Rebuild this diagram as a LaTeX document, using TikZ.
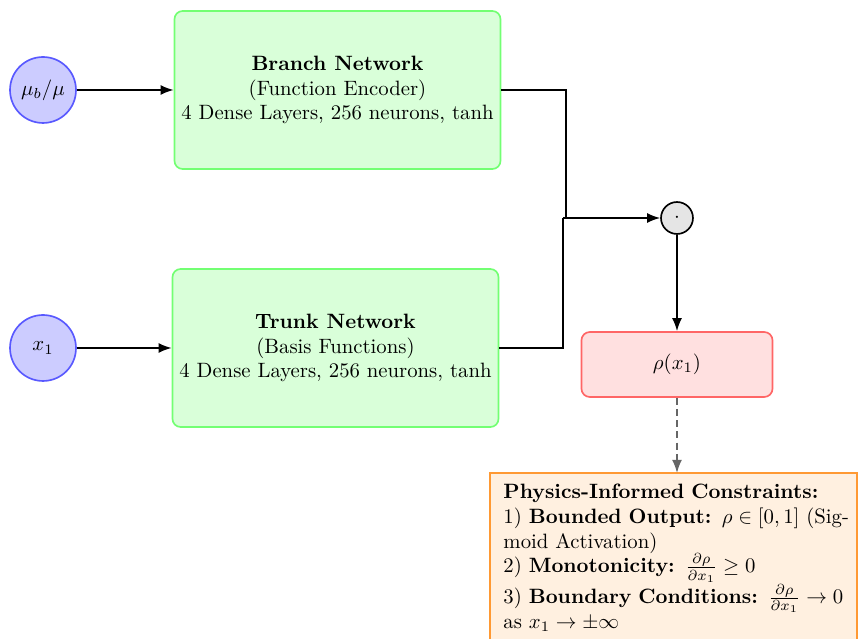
\documentclass[tikz,border=0pt]{standalone}
\usetikzlibrary{arrows.meta}
\begin{document}
\begin{tikzpicture}[x=0.482pt,y=-0.482pt,
  inp/.style={circle,draw=blue!65,fill=blue!20,thick,minimum size=31.8pt,inner sep=0pt},
  net/.style={rectangle,rounded corners=4pt,draw=green!55,fill=green!15,thick,minimum width=156.7pt,minimum height=76.2pt,align=center},
  outbox/.style={rectangle,rounded corners=4pt,draw=red!60,fill=red!12,thick,minimum width=92.1pt,minimum height=31.3pt},
  opnode/.style={circle,draw=black,fill=gray!20,thick,minimum size=15.4pt,inner sep=0pt},
  consbox/.style={draw=orange!80,fill=orange!12,thick},
  cons/.style={rectangle,text width=170pt,align=left,inner xsep=6.3pt,inner ysep=5pt,anchor=north west},
  conn/.style={thick,-{Latex[length=6.3pt,width=4.8pt]}},
  line/.style={thick},
  dconn/.style={thick,black!60,dash pattern=on 3.4pt off 2pt,-{Latex[length=6.3pt,width=4.8pt]}}]
\useasboundingbox (0,0) rectangle (858,639);
\clip (0,0) rectangle (858,639);
\node[inp] (mu) at (43,90) {$\mu_b/\mu$};
\node[inp] (x1) at (43,348) {$x_1$};
\node[net] (branch) at (337.5,90) {\textbf{Branch Network}\\(Function Encoder)\\4 Dense Layers, 256 neurons, tanh};
\node[net] (trunk) at (335.5,348) {\textbf{Trunk Network}\\(Basis Functions)\\4 Dense Layers, 256 neurons, tanh};
\node[opnode] (dot) at (677,218) {$\cdot$};
\node[outbox] (rho) at (677,364.5) {$\rho(x_1)$};
\draw[consbox] (490,473) rectangle (857,700);
\node[cons] (pc) at (490,473) {\textbf{Physics-Informed Constraints:}\\
1) \textbf{Bounded Output:} $\rho\in[0,1]$ (Sig-\\moid Activation)\\
2) \textbf{Monotonicity:} $\frac{\partial\rho}{\partial x_1}\geq 0$\\
3) \textbf{Boundary Conditions:} $\frac{\partial\rho}{\partial x_1}\to 0$\\
as $x_1\to\pm\infty$};
\coordinate (jb) at (566,218);
\coordinate (jt) at (563,218);
\draw[conn] (mu) -- (branch);
\draw[conn] (x1) -- (trunk);
\draw[line] (branch.east) -| (jb);
\draw[line] (trunk.east) -| (jt);
\draw[conn] (jt) -- (dot);
\draw[conn] (dot) -- (rho);
\draw[dconn] (rho) -- (pc.north -| rho);
\end{tikzpicture}
\end{document}
